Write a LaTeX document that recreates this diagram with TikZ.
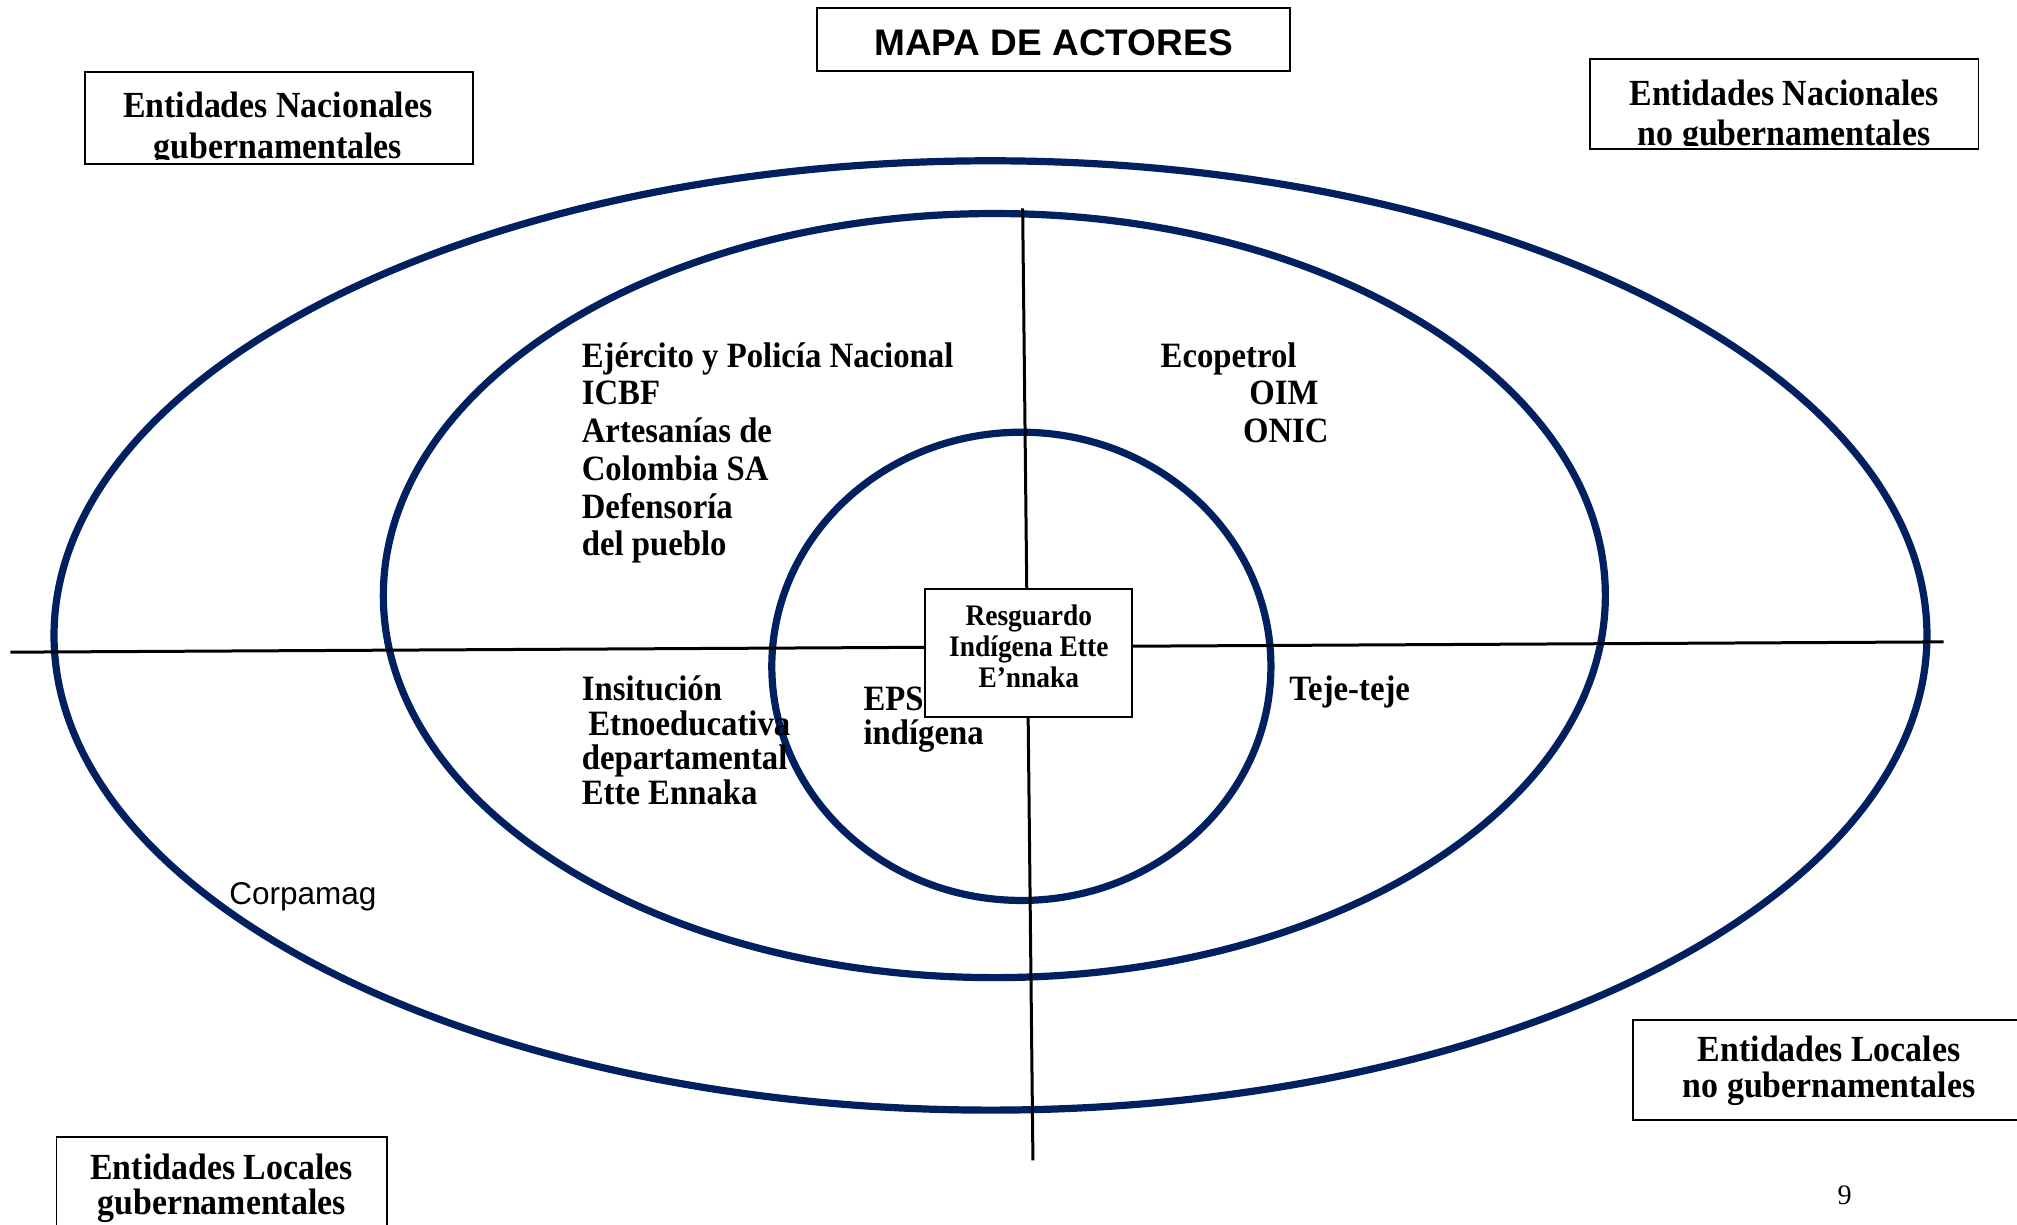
\documentclass[tikz,border=0pt]{standalone}
\usepackage{fontspec}
\setmainfont{Liberation Serif}[FakeStretch=0.92]
\newfontfamily\plainserif{Liberation Serif}
\newfontfamily\arialf{Liberation Sans}
\definecolor{navy}{RGB}{0,32,96}
\begin{document}
\begin{tikzpicture}[x=0.643pt,y=-0.643pt,
  ring/.style={draw=navy,line width=3.6pt},
  axis/.style={draw=black,line width=1.5pt},
  box/.style={draw=black,line width=0.9pt,fill=white,inner sep=0pt},
  lbl/.style={font=\bfseries\fontsize{17.8}{20}\selectfont,inner sep=0pt,anchor=base west},
  boxtxt/.style={font=\bfseries\fontsize{18.4}{20}\selectfont,inner sep=0pt,anchor=base},
  ctrtxt/.style={font=\bfseries\fontsize{14.9}{16}\selectfont,inner sep=0pt,anchor=base},
  sanstxt/.style={font=\arialf\fontsize{15.75}{18}\selectfont,inner sep=0pt,anchor=base west}]
\useasboundingbox[fill=white] (0,0) rectangle (1568,952);

% ellipses
\draw[ring] (770,494) ellipse [x radius=728, y radius=369];
\draw[ring] (773,463) ellipse [x radius=475, y radius=297];
\draw[ring] (794,518) ellipse [x radius=194, y radius=182];

% axes
\coordinate (hl) at (8,507);
\coordinate (hr) at (1511,499);
\coordinate (vt) at (795,162);
\coordinate (vb) at (803,902);
\draw[axis] (hl) -- (hr);
\draw[axis] (vt) -- (vb);

% centre box
\node[box,minimum width=103.5pt,minimum height=64pt] (centre) at (799.5,507.8) {};
\node[ctrtxt] (c1) at (799.8,486) {Resguardo};
\node[ctrtxt] (c2) at (799.8,510) {Indígena Ette};
\node[ctrtxt] (c3) at (799.8,534.3) {E’nnaka};

% title
\node[box,minimum width=236.6pt,minimum height=31.2pt] (title) at (819,30.75) {};
\node[font=\arialf\bfseries\fontsize{18.5}{20}\selectfont,inner sep=0pt,anchor=base] (titletxt) at (819,42.8) {MAPA DE ACTORES};

% top-left box
\node[box,minimum width=194.2pt,minimum height=46pt] (tl) at (217,91.75) {};
\begin{scope}
\clip (66,56) rectangle (368,124);
\node[boxtxt] (tl1) at (216,91.7) {Entidades Nacionales};
\node[boxtxt] (tl2) at (216,123.5) {gubernamentales};
\end{scope}

% top-right box
\node[box,minimum width=194.2pt,minimum height=44.9pt] (tr) at (1387,80.8) {};
\begin{scope}
\clip (1236,46) rectangle (1538,113.5);
\node[boxtxt] (tr1) at (1387,81.8) {Entidades Nacionales};
\node[boxtxt] (tr2) at (1387,113) {no gubernamentales};
\end{scope}

% bottom-right box
\node[box,minimum width=194.5pt,minimum height=49.9pt] (br) at (1420.75,831.8) {};
\node[boxtxt] (br1) at (1422,825.3) {Entidades Locales};
\node[boxtxt] (br2) at (1422,853.5) {no gubernamentales};

% bottom-left box
\node[box,minimum width=165pt,minimum height=46.3pt] (bl) at (172.3,920) {};
\node[boxtxt] (bl1) at (172.3,916.6) {Entidades Locales};
\node[boxtxt] (bl2) at (172.3,944) {gubernamentales};

% upper-left actors
\foreach \t [count=\i] in {Ejército y Policía Nacional,ICBF,Artesanías de,Colombia SA,Defensoría,del pueblo}
  \node[lbl] (ul\i) at (452,{285.5+29.3*(\i-1)}) {\t};

% upper-right actors
\node[lbl] (ur1) at (902,285.5) {Ecopetrol};
\node[lbl] (ur2) at (971,314.8) {OIM};
\node[lbl] (ur3) at (966,344.1) {ONIC};

% lower-left actors
\node[lbl] (ll1) at (452,544.5) {Insitución};
\node[lbl] (ll2) at (457,571.5) {Etnoeducativa};
\node[lbl] (ll3) at (452,598.5) {departamental};
\node[lbl] (ll4) at (452,625.5) {Ette Ennaka};

\node[lbl] (eps1) at (671,552) {EPS};
\node[lbl] (eps2) at (671,579) {indígena};

\node[lbl] (teje) at (1002,544.5) {Teje-teje};

\node[sanstxt] (corp) at (178,703.5) {Corpamag};

\node[font=\plainserif\fontsize{14.1}{16}\selectfont,inner sep=0pt,anchor=base] (page) at (1434,936) {9};
\end{tikzpicture}
\end{document}
